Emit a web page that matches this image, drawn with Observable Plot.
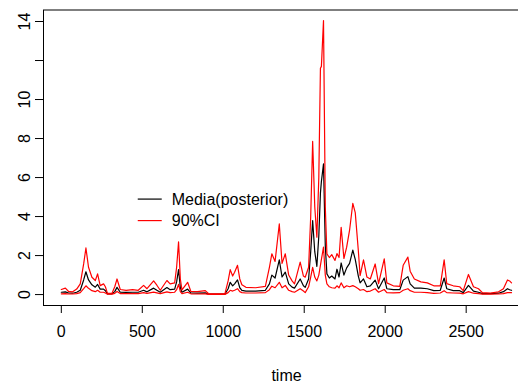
<!DOCTYPE html>
<html><head><meta charset="utf-8">
<script src="https://cdn.jsdelivr.net/npm/d3@7"></script>
<script src="https://cdn.jsdelivr.net/npm/@observablehq/plot@0.6"></script>
<style>
body{margin:0;background:#fff;}
#chart{position:relative;width:518px;height:389px;overflow:hidden;}
</style>
</head><body><div id="chart"></div>
<script>
const time  = [0,25,45,70,95,117,138,152,168,189,210,224,240,261,272,285,313,330,344,364,400,440,475,508,529,570,590,611,652,672,700,712,724,735,745,780,800,840,889,910,1010,1030,1043,1058,1070,1088,1102,1115,1140,1200,1260,1285,1300,1320,1346,1363,1383,1404,1425,1440,1475,1495,1506,1527,1540,1552,1565,1578,1590,1600,1606,1619,1630,1640,1655,1670,1690,1702,1715,1728,1745,1762,1780,1800,1815,1834,1845,1866,1887,1908,1938,1959,1994,2010,2050,2090,2111,2140,2154,2180,2220,2260,2300,2340,2364,2380,2420,2460,2482,2514,2545,2576,2600,2650,2700,2730,2755,2768,2780];
const lower = [0.04,0.05,0.03,0.03,0.05,0.10,0.30,0.45,0.32,0.20,0.15,0.22,0.12,0.12,0.08,0.02,0.02,0.06,0.16,0.05,0.05,0.05,0.05,0.10,0.06,0.13,0.09,0.05,0.14,0.10,0.12,0.25,0.52,0.15,0.05,0.12,0.04,0.03,0.04,0.01,0.01,0.10,0.22,0.18,0.22,0.30,0.15,0.10,0.08,0.08,0.10,0.25,0.43,0.35,0.63,0.35,0.47,0.22,0.15,0.12,0.30,0.18,0.10,0.40,0.90,1.40,0.90,0.70,1.00,1.50,1.80,2.43,1.00,0.55,0.40,0.35,0.33,0.45,0.35,0.60,0.35,0.45,0.40,0.46,0.40,0.30,0.22,0.26,0.15,0.18,0.30,0.12,0.26,0.10,0.09,0.10,0.22,0.30,0.20,0.12,0.12,0.10,0.06,0.08,0.20,0.10,0.08,0.07,0.04,0.15,0.07,0.05,0.02,0.02,0.03,0.05,0.10,0.10,0.10];
const media = [0.12,0.14,0.08,0.07,0.12,0.22,0.75,1.17,0.75,0.50,0.38,0.52,0.28,0.28,0.20,0.04,0.04,0.15,0.37,0.12,0.11,0.12,0.12,0.22,0.14,0.33,0.22,0.12,0.36,0.25,0.28,0.65,1.28,0.35,0.12,0.28,0.08,0.07,0.09,0.02,0.02,0.30,0.63,0.45,0.55,0.75,0.35,0.22,0.18,0.18,0.22,0.55,1.00,0.85,1.78,0.90,1.15,0.55,0.38,0.33,0.80,0.45,0.37,0.80,2.20,3.79,2.20,1.45,3.00,5.20,5.80,6.70,2.50,1.06,0.85,0.95,0.80,1.30,0.90,1.62,1.00,1.37,1.60,2.28,1.80,0.95,0.60,0.80,0.40,0.45,0.74,0.30,0.85,0.30,0.25,0.25,0.74,0.92,0.55,0.33,0.33,0.30,0.20,0.22,0.85,0.30,0.20,0.20,0.10,0.47,0.18,0.12,0.05,0.05,0.07,0.15,0.30,0.25,0.22];
const upper = [0.26,0.33,0.16,0.14,0.28,0.55,1.57,2.39,1.40,0.89,0.72,1.06,0.46,0.55,0.40,0.06,0.07,0.40,0.80,0.26,0.22,0.25,0.22,0.47,0.30,0.70,0.48,0.22,0.72,0.55,0.60,1.40,2.70,0.80,0.24,0.63,0.16,0.15,0.20,0.04,0.04,0.70,1.28,0.95,1.15,1.50,0.80,0.50,0.37,0.35,0.42,1.40,2.09,1.70,3.62,1.60,2.09,1.00,0.70,0.55,1.66,0.95,0.89,1.40,4.00,7.85,4.50,2.94,6.00,11.60,11.70,14.05,4.50,2.09,1.90,2.05,1.75,2.10,1.90,3.45,1.85,2.43,3.30,4.68,4.20,2.26,0.97,1.78,0.90,0.80,1.57,0.56,1.83,0.60,0.45,0.42,1.50,1.92,1.20,0.80,0.65,0.60,0.45,0.45,1.78,0.56,0.45,0.40,0.20,1.03,0.40,0.30,0.10,0.08,0.14,0.30,0.75,0.70,0.60];

const xTicks = [0,500,1000,1500,2000,2500];
const yTicks = [0,2,4,6,8,10,12,14];
const yTickLabels = ["0","2","4","6","8","10","","14"];
const xLabel = "time";
const legendLabels = ["Media(posterior)","90%CI"];
const legendColors = ["#000000","#ff0000"];

const rows = time.map((t,i)=>({time:t, lower:lower[i], media:media[i], upper:upper[i]}));
const font = "'Liberation Sans', Arial, Helvetica, sans-serif";

const plot = Plot.plot({
  width:518, height:389,
  marginLeft:43, marginRight:-11, marginTop:9.5, marginBottom:84,
  style:{fontFamily:font, fontSize:"16px", background:"white", overflow:"hidden", color:"#000"},
  x:{domain:[-110,2891]},
  y:{domain:[-0.56,14.59]},
  marks:[
    Plot.frame({stroke:"#000", strokeWidth:1}),
    Plot.axisX({ticks:xTicks, tickSize:8, tickPadding:12, label:null, tickFormat:d=>String(d), fontSize:16}),
    Plot.axisY({ticks:yTicks, tickSize:8, tickRotate:-90, tickPadding:6, label:null, fontSize:16,
      tickFormat:d=>yTickLabels[yTicks.indexOf(d)]}),
    Plot.text([xLabel], {frameAnchor:"bottom", dy:70, fontSize:16, lineAnchor:"middle"}),
    Plot.lineY(rows,{x:"time", y:"media", stroke:legendColors[0], strokeWidth:1.2}),
    Plot.lineY(rows,{x:"time", y:"upper", stroke:legendColors[1], strokeWidth:1.2}),
    Plot.lineY(rows,{x:"time", y:"lower", stroke:legendColors[1], strokeWidth:1.2})
  ]
});
document.getElementById("chart").appendChild(plot);

// legend inside the plot (no box), anchored in data coordinates
const sx = plot.scale("x"), sy = plot.scale("y");
const lx = sx.apply(475), ly = sy.apply(4.87);
const svg = d3.select(plot);
const g = svg.append("g").attr("font-family", font).attr("font-size", 16).attr("text-anchor","start");
legendLabels.forEach((lab,i)=>{
  const y = ly + i*21.5;
  g.append("line").attr("x1", lx).attr("x2", lx+24).attr("y1", y).attr("y2", y)
    .attr("stroke", legendColors[i]).attr("stroke-width", 1.2);
  g.append("text").attr("x", lx+34).attr("y", y).attr("dy","0.35em").attr("fill","#000")
    .attr("text-anchor","start").text(lab);
});
</script>
</body></html>
